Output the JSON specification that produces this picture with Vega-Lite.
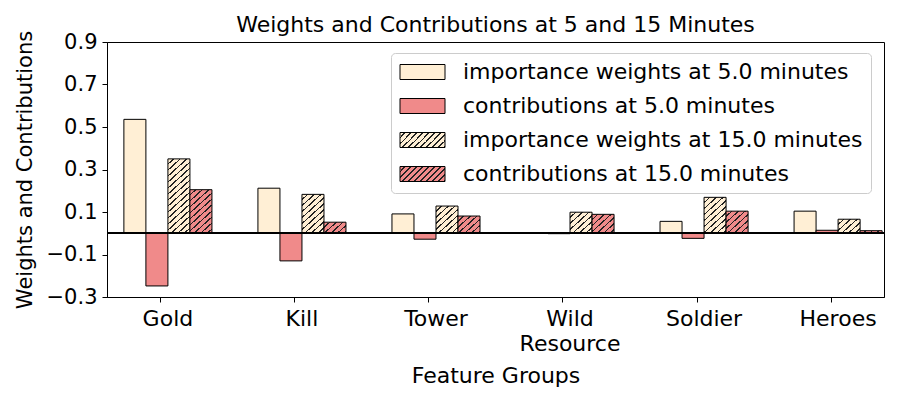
{
  "$schema": "https://vega.github.io/schema/vega-lite/v6.json",
  "width": 777,
  "height": 255,
  "autosize": "none",
  "padding": {"left": 107, "top": 42, "right": 16, "bottom": 103},
  "background": "white",
  "title": {"text": "Weights and Contributions at 5 and 15 Minutes", "fontSize": 22, "fontWeight": "normal", "font": "DejaVu Sans", "color": "black", "anchor": "middle", "baseline": "alphabetic", "offset": 0, "dy": 24},
  "data": {"values": [
    {"group": "Gold", "minutes": 5, "metric": "importance weights", "series": "importance weights at 5.0 minutes", "value": 0.536},
    {"group": "Gold", "minutes": 5, "metric": "contributions", "series": "contributions at 5.0 minutes", "value": -0.248},
    {"group": "Gold", "minutes": 15, "metric": "importance weights", "series": "importance weights at 15.0 minutes", "value": 0.350},
    {"group": "Gold", "minutes": 15, "metric": "contributions", "series": "contributions at 15.0 minutes", "value": 0.205},
    {"group": "Kill", "minutes": 5, "metric": "importance weights", "series": "importance weights at 5.0 minutes", "value": 0.212},
    {"group": "Kill", "minutes": 5, "metric": "contributions", "series": "contributions at 5.0 minutes", "value": -0.130},
    {"group": "Kill", "minutes": 15, "metric": "importance weights", "series": "importance weights at 15.0 minutes", "value": 0.183},
    {"group": "Kill", "minutes": 15, "metric": "contributions", "series": "contributions at 15.0 minutes", "value": 0.052},
    {"group": "Tower", "minutes": 5, "metric": "importance weights", "series": "importance weights at 5.0 minutes", "value": 0.091},
    {"group": "Tower", "minutes": 5, "metric": "contributions", "series": "contributions at 5.0 minutes", "value": -0.028},
    {"group": "Tower", "minutes": 15, "metric": "importance weights", "series": "importance weights at 15.0 minutes", "value": 0.128},
    {"group": "Tower", "minutes": 15, "metric": "contributions", "series": "contributions at 15.0 minutes", "value": 0.081},
    {"group": "Wild Resource", "minutes": 5, "metric": "importance weights", "series": "importance weights at 5.0 minutes", "value": 0.002},
    {"group": "Wild Resource", "minutes": 5, "metric": "contributions", "series": "contributions at 5.0 minutes", "value": -0.002},
    {"group": "Wild Resource", "minutes": 15, "metric": "importance weights", "series": "importance weights at 15.0 minutes", "value": 0.099},
    {"group": "Wild Resource", "minutes": 15, "metric": "contributions", "series": "contributions at 15.0 minutes", "value": 0.089},
    {"group": "Soldier", "minutes": 5, "metric": "importance weights", "series": "importance weights at 5.0 minutes", "value": 0.056},
    {"group": "Soldier", "minutes": 5, "metric": "contributions", "series": "contributions at 5.0 minutes", "value": -0.024},
    {"group": "Soldier", "minutes": 15, "metric": "importance weights", "series": "importance weights at 15.0 minutes", "value": 0.169},
    {"group": "Soldier", "minutes": 15, "metric": "contributions", "series": "contributions at 15.0 minutes", "value": 0.104},
    {"group": "Heroes", "minutes": 5, "metric": "importance weights", "series": "importance weights at 5.0 minutes", "value": 0.104},
    {"group": "Heroes", "minutes": 5, "metric": "contributions", "series": "contributions at 5.0 minutes", "value": 0.014},
    {"group": "Heroes", "minutes": 15, "metric": "importance weights", "series": "importance weights at 15.0 minutes", "value": 0.066},
    {"group": "Heroes", "minutes": 15, "metric": "contributions", "series": "contributions at 15.0 minutes", "value": 0.012}
  ]},
  "encoding": {
    "x": {"field": "group", "type": "nominal",
      "scale": {"domain": ["Gold", "Kill", "Tower", "Wild Resource", "Soldier", "Heroes"], "paddingInner": 0.343, "paddingOuter": 0.07, "align": 0.9},
      "axis": {"title": "Feature Groups", "labelAngle": 0, "bandPosition": 0.42, "labelExpr": "datum.value == 'Wild Resource' ? ['Wild', 'Resource'] : datum.label", "labelLineHeight": 25, "tickSize": 5, "labelPadding": 6, "titleY": 85, "titleBaseline": "alphabetic"}},
    "y": {"field": "value", "type": "quantitative",
      "scale": {"domain": [-0.3, 0.9], "nice": false},
      "axis": {"values": [-0.3, -0.1, 0.1, 0.3, 0.5, 0.7, 0.9], "format": ".1f", "title": "Weights and Contributions", "titleX": -76, "titleBaseline": "alphabetic", "titleFontSize": 21, "labelFontSize": 21, "tickSize": 5, "labelPadding": 5}}
  },
  "layer": [
    {
      "transform": [{"filter": "datum.minutes == 5"}],
      "mark": {"type": "bar", "stroke": "black", "strokeWidth": 1},
      "encoding": {
        "xOffset": {"field": "metric", "type": "nominal", "scale": {"domain": ["importance weights", "contributions"], "paddingInner": 0, "paddingOuter": 1.2, "align": 0}},
        "color": {"field": "series", "type": "nominal",
          "scale": {"domain": ["importance weights at 5.0 minutes", "contributions at 5.0 minutes", "importance weights at 15.0 minutes", "contributions at 15.0 minutes"],
            "range": ["#FFEFD5", "#F08A8A",
              {"expr": "{gradient:'linear',x1:0,y1:0,x2:1.2,y2:0.4,stops:[{offset:0,color:'#FFEFD5'},{offset:0.075,color:'#FFEFD5'},{offset:0.075,color:'#222'},{offset:0.1,color:'#222'},{offset:0.1,color:'#FFEFD5'},{offset:0.175,color:'#FFEFD5'},{offset:0.175,color:'#222'},{offset:0.2,color:'#222'},{offset:0.2,color:'#FFEFD5'},{offset:0.275,color:'#FFEFD5'},{offset:0.275,color:'#222'},{offset:0.3,color:'#222'},{offset:0.3,color:'#FFEFD5'},{offset:0.375,color:'#FFEFD5'},{offset:0.375,color:'#222'},{offset:0.4,color:'#222'},{offset:0.4,color:'#FFEFD5'},{offset:0.475,color:'#FFEFD5'},{offset:0.475,color:'#222'},{offset:0.5,color:'#222'},{offset:0.5,color:'#FFEFD5'},{offset:0.575,color:'#FFEFD5'},{offset:0.575,color:'#222'},{offset:0.6,color:'#222'},{offset:0.6,color:'#FFEFD5'},{offset:0.675,color:'#FFEFD5'},{offset:0.675,color:'#222'},{offset:0.7,color:'#222'},{offset:0.7,color:'#FFEFD5'},{offset:0.775,color:'#FFEFD5'},{offset:0.775,color:'#222'},{offset:0.8,color:'#222'},{offset:0.8,color:'#FFEFD5'},{offset:0.875,color:'#FFEFD5'},{offset:0.875,color:'#222'},{offset:0.9,color:'#222'},{offset:0.9,color:'#FFEFD5'},{offset:0.975,color:'#FFEFD5'},{offset:0.975,color:'#222'},{offset:1,color:'#222'}]}"},
              {"expr": "{gradient:'linear',x1:0,y1:0,x2:1.2,y2:0.4,stops:[{offset:0,color:'#F08A8A'},{offset:0.075,color:'#F08A8A'},{offset:0.075,color:'#222'},{offset:0.1,color:'#222'},{offset:0.1,color:'#F08A8A'},{offset:0.175,color:'#F08A8A'},{offset:0.175,color:'#222'},{offset:0.2,color:'#222'},{offset:0.2,color:'#F08A8A'},{offset:0.275,color:'#F08A8A'},{offset:0.275,color:'#222'},{offset:0.3,color:'#222'},{offset:0.3,color:'#F08A8A'},{offset:0.375,color:'#F08A8A'},{offset:0.375,color:'#222'},{offset:0.4,color:'#222'},{offset:0.4,color:'#F08A8A'},{offset:0.475,color:'#F08A8A'},{offset:0.475,color:'#222'},{offset:0.5,color:'#222'},{offset:0.5,color:'#F08A8A'},{offset:0.575,color:'#F08A8A'},{offset:0.575,color:'#222'},{offset:0.6,color:'#222'},{offset:0.6,color:'#F08A8A'},{offset:0.675,color:'#F08A8A'},{offset:0.675,color:'#222'},{offset:0.7,color:'#222'},{offset:0.7,color:'#F08A8A'},{offset:0.775,color:'#F08A8A'},{offset:0.775,color:'#222'},{offset:0.8,color:'#222'},{offset:0.8,color:'#F08A8A'},{offset:0.875,color:'#F08A8A'},{offset:0.875,color:'#222'},{offset:0.9,color:'#222'},{offset:0.9,color:'#F08A8A'},{offset:0.975,color:'#F08A8A'},{offset:0.975,color:'#222'},{offset:1,color:'#222'}]}"}
            ]},
          "legend": {"title": null, "orient": "none", "legendX": 284, "legendY": 11}}
      }
    },
    {
      "transform": [{"filter": "datum.minutes == 15 && datum.metric == 'importance weights'"}],
      "mark": {"type": "bar", "stroke": "black", "strokeWidth": 1,
        "fill": {"expr": "{gradient:'linear',x1:0,y1:0,x2:5.4/(1+pow(max(abs(scale('y',datum.value)-scale('y',0)),1)/20,2)),y2:5.4/(1+pow(max(abs(scale('y',datum.value)-scale('y',0)),1)/20,2))*max(abs(scale('y',datum.value)-scale('y',0)),1)/20,stops:[{offset:0,color:'#FFEFD5'},{offset:0.0417,color:'#FFEFD5'},{offset:0.0417,color:'#222'},{offset:0.0556,color:'#222'},{offset:0.0556,color:'#FFEFD5'},{offset:0.0972,color:'#FFEFD5'},{offset:0.0972,color:'#222'},{offset:0.1111,color:'#222'},{offset:0.1111,color:'#FFEFD5'},{offset:0.1528,color:'#FFEFD5'},{offset:0.1528,color:'#222'},{offset:0.1667,color:'#222'},{offset:0.1667,color:'#FFEFD5'},{offset:0.2083,color:'#FFEFD5'},{offset:0.2083,color:'#222'},{offset:0.2222,color:'#222'},{offset:0.2222,color:'#FFEFD5'},{offset:0.2639,color:'#FFEFD5'},{offset:0.2639,color:'#222'},{offset:0.2778,color:'#222'},{offset:0.2778,color:'#FFEFD5'},{offset:0.3194,color:'#FFEFD5'},{offset:0.3194,color:'#222'},{offset:0.3333,color:'#222'},{offset:0.3333,color:'#FFEFD5'},{offset:0.375,color:'#FFEFD5'},{offset:0.375,color:'#222'},{offset:0.3889,color:'#222'},{offset:0.3889,color:'#FFEFD5'},{offset:0.4306,color:'#FFEFD5'},{offset:0.4306,color:'#222'},{offset:0.4444,color:'#222'},{offset:0.4444,color:'#FFEFD5'},{offset:0.4861,color:'#FFEFD5'},{offset:0.4861,color:'#222'},{offset:0.5,color:'#222'},{offset:0.5,color:'#FFEFD5'},{offset:0.5417,color:'#FFEFD5'},{offset:0.5417,color:'#222'},{offset:0.5556,color:'#222'},{offset:0.5556,color:'#FFEFD5'},{offset:0.5972,color:'#FFEFD5'},{offset:0.5972,color:'#222'},{offset:0.6111,color:'#222'},{offset:0.6111,color:'#FFEFD5'},{offset:0.6528,color:'#FFEFD5'},{offset:0.6528,color:'#222'},{offset:0.6667,color:'#222'},{offset:0.6667,color:'#FFEFD5'},{offset:0.7083,color:'#FFEFD5'},{offset:0.7083,color:'#222'},{offset:0.7222,color:'#222'},{offset:0.7222,color:'#FFEFD5'},{offset:0.7639,color:'#FFEFD5'},{offset:0.7639,color:'#222'},{offset:0.7778,color:'#222'},{offset:0.7778,color:'#FFEFD5'},{offset:0.8194,color:'#FFEFD5'},{offset:0.8194,color:'#222'},{offset:0.8333,color:'#222'},{offset:0.8333,color:'#FFEFD5'},{offset:0.875,color:'#FFEFD5'},{offset:0.875,color:'#222'},{offset:0.8889,color:'#222'},{offset:0.8889,color:'#FFEFD5'},{offset:0.9306,color:'#FFEFD5'},{offset:0.9306,color:'#222'},{offset:0.9444,color:'#222'},{offset:0.9444,color:'#FFEFD5'},{offset:0.9861,color:'#FFEFD5'},{offset:0.9861,color:'#222'},{offset:1,color:'#222'},{offset:1,color:'#FFEFD5'}]}"}},
      "encoding": {
        "xOffset": {"field": "metric", "type": "nominal", "scale": {"domain": ["importance weights", "contributions"], "paddingInner": 0, "paddingOuter": 1.2, "align": 1}}
      }
    },
    {
      "transform": [{"filter": "datum.minutes == 15 && datum.metric == 'contributions'"}],
      "mark": {"type": "bar", "stroke": "black", "strokeWidth": 1,
        "fill": {"expr": "{gradient:'linear',x1:0,y1:0,x2:5.4/(1+pow(max(abs(scale('y',datum.value)-scale('y',0)),1)/20,2)),y2:5.4/(1+pow(max(abs(scale('y',datum.value)-scale('y',0)),1)/20,2))*max(abs(scale('y',datum.value)-scale('y',0)),1)/20,stops:[{offset:0,color:'#F08A8A'},{offset:0.0417,color:'#F08A8A'},{offset:0.0417,color:'#222'},{offset:0.0556,color:'#222'},{offset:0.0556,color:'#F08A8A'},{offset:0.0972,color:'#F08A8A'},{offset:0.0972,color:'#222'},{offset:0.1111,color:'#222'},{offset:0.1111,color:'#F08A8A'},{offset:0.1528,color:'#F08A8A'},{offset:0.1528,color:'#222'},{offset:0.1667,color:'#222'},{offset:0.1667,color:'#F08A8A'},{offset:0.2083,color:'#F08A8A'},{offset:0.2083,color:'#222'},{offset:0.2222,color:'#222'},{offset:0.2222,color:'#F08A8A'},{offset:0.2639,color:'#F08A8A'},{offset:0.2639,color:'#222'},{offset:0.2778,color:'#222'},{offset:0.2778,color:'#F08A8A'},{offset:0.3194,color:'#F08A8A'},{offset:0.3194,color:'#222'},{offset:0.3333,color:'#222'},{offset:0.3333,color:'#F08A8A'},{offset:0.375,color:'#F08A8A'},{offset:0.375,color:'#222'},{offset:0.3889,color:'#222'},{offset:0.3889,color:'#F08A8A'},{offset:0.4306,color:'#F08A8A'},{offset:0.4306,color:'#222'},{offset:0.4444,color:'#222'},{offset:0.4444,color:'#F08A8A'},{offset:0.4861,color:'#F08A8A'},{offset:0.4861,color:'#222'},{offset:0.5,color:'#222'},{offset:0.5,color:'#F08A8A'},{offset:0.5417,color:'#F08A8A'},{offset:0.5417,color:'#222'},{offset:0.5556,color:'#222'},{offset:0.5556,color:'#F08A8A'},{offset:0.5972,color:'#F08A8A'},{offset:0.5972,color:'#222'},{offset:0.6111,color:'#222'},{offset:0.6111,color:'#F08A8A'},{offset:0.6528,color:'#F08A8A'},{offset:0.6528,color:'#222'},{offset:0.6667,color:'#222'},{offset:0.6667,color:'#F08A8A'},{offset:0.7083,color:'#F08A8A'},{offset:0.7083,color:'#222'},{offset:0.7222,color:'#222'},{offset:0.7222,color:'#F08A8A'},{offset:0.7639,color:'#F08A8A'},{offset:0.7639,color:'#222'},{offset:0.7778,color:'#222'},{offset:0.7778,color:'#F08A8A'},{offset:0.8194,color:'#F08A8A'},{offset:0.8194,color:'#222'},{offset:0.8333,color:'#222'},{offset:0.8333,color:'#F08A8A'},{offset:0.875,color:'#F08A8A'},{offset:0.875,color:'#222'},{offset:0.8889,color:'#222'},{offset:0.8889,color:'#F08A8A'},{offset:0.9306,color:'#F08A8A'},{offset:0.9306,color:'#222'},{offset:0.9444,color:'#222'},{offset:0.9444,color:'#F08A8A'},{offset:0.9861,color:'#F08A8A'},{offset:0.9861,color:'#222'},{offset:1,color:'#222'},{offset:1,color:'#F08A8A'}]}"}},
      "encoding": {
        "xOffset": {"field": "metric", "type": "nominal", "scale": {"domain": ["importance weights", "contributions"], "paddingInner": 0, "paddingOuter": 1.2, "align": 1}}
      }
    },
    {
      "mark": {"type": "rule", "color": "black", "strokeWidth": 1},
      "encoding": {"y": {"datum": 0}, "x": null}
    }
  ],
  "resolve": {"scale": {"xOffset": "independent"}},
  "config": {
    "font": "DejaVu Sans",
    "view": {"stroke": "black", "strokeWidth": 1},
    "axis": {"domainColor": "black", "tickColor": "black", "labelColor": "black", "titleColor": "black", "labelFontSize": 22, "titleFontSize": 22, "titleFontWeight": "normal", "grid": false, "labelFont": "DejaVu Sans", "titleFont": "DejaVu Sans"},
    "legend": {"padding": 8, "strokeColor": "#cccccc", "cornerRadius": 4, "fillColor": "white", "labelFontSize": 22, "labelFont": "DejaVu Sans", "labelColor": "black", "symbolType": "M-1,-0.75H3.5V0.75H-1Z", "symbolSize": 400, "symbolStrokeColor": "black", "symbolStrokeWidth": 1, "symbolOpacity": 1, "rowPadding": 12, "labelOffset": 42, "labelLimit": 500}
  }
}
